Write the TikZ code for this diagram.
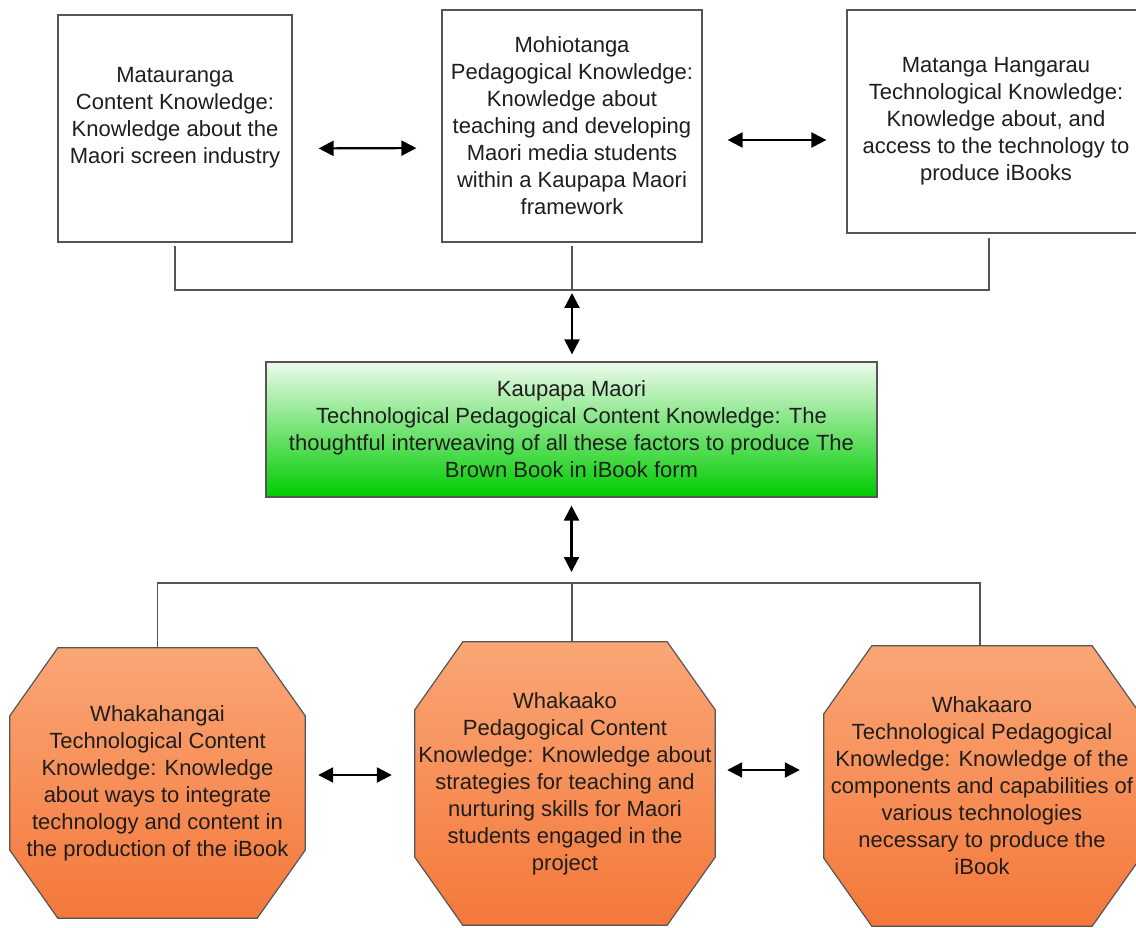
\documentclass[tikz,border=0pt]{standalone}
\usepackage{fontspec}
\setmainfont{Liberation Sans}
\usepackage{xcolor}
\usepackage{tikz}
\usetikzlibrary{arrows.meta,backgrounds}

\definecolor{linegray}{RGB}{85,85,85}
\definecolor{txtgray}{RGB}{30,30,30}
\definecolor{greentop}{RGB}{236,250,236}
\definecolor{greenbot}{RGB}{0,204,0}
\definecolor{orangetop}{RGB}{250,166,118}
\definecolor{orangebot}{RGB}{244,120,58}

\begin{document}
\begin{tikzpicture}[x=1pt,y=-1pt,
  txt/.style={align=center,inner sep=0pt,text=txtgray,font=\fontsize{22}{27}\selectfont},
  kbox/.style={txt,draw=linegray,line width=1.2pt,fill=white},
  tpack/.style={txt,draw=linegray,line width=1.2pt,top color=greentop,bottom color=greenbot},
  octo/.style={draw=linegray,line width=1.2pt,top color=orangetop,bottom color=orangebot},
  bus/.style={draw=linegray,line width=1.6pt},
  dbl/.style={{Triangle[length=15pt,width=15pt]}-{Triangle[length=15pt,width=15pt]},line width=2.2pt,black}]
\useasboundingbox (0,0) rectangle (1136,928);

% top row
\node[kbox,minimum width=234pt,minimum height=227pt,
  label={[txt,yshift=11pt]center:Matauranga\\Content Knowledge:\\Knowledge about the\\Maori screen industry}] (mat) at (175,128.5) {};
\node[kbox,minimum width=260pt,minimum height=232pt] (moh) at (572,126)
  {Mohiotanga\\Pedagogical Knowledge:\\Knowledge about\\teaching and developing\\Maori media students\\within a Kaupapa Maori\\framework};
\node[kbox,minimum width=298pt,minimum height=223pt] (mth) at (996,121.5)
  {Matanga Hangarau\\Technological Knowledge:\\Knowledge about, and\\access to the technology to\\produce iBooks};

% centre
\node[tpack,minimum width=611pt,minimum height=135pt] (kau) at (571.5,429.5)
  {Kaupapa Maori\\Technological Pedagogical Content Knowledge: The\\thoughtful interweaving of all these factors to produce The\\Brown Book in iBook form};

% bottom row
\node[txt,minimum width=295pt,minimum height=270pt] (wkh) at (157.5,783)
  {Whakahangai\\Technological Content\\Knowledge: Knowledge\\about ways to integrate\\technology and content in\\the production of the iBook};
\node[txt,minimum width=300pt,minimum height=283pt] (wkk) at (565,783.5)
  {Whakaako\\Pedagogical Content\\Knowledge: Knowledge about\\strategies for teaching and\\nurturing skills for Maori\\students engaged in the\\project};
\node[txt,minimum width=316pt,minimum height=280pt] (wka) at (982,786)
  {Whakaaro\\Technological Pedagogical\\Knowledge: Knowledge of the\\components and capabilities of\\various technologies\\necessary to produce the\\iBook};

\begin{pgfonlayer}{background}
\foreach \n in {wkh,wkk,wka}
  \draw[octo] ([xshift=48pt]\n.north west) -- ([xshift=-48pt]\n.north east)
    -- ([yshift=-68pt]\n.north east) -- ([yshift=68pt]\n.south east)
    -- ([xshift=-48pt]\n.south east) -- ([xshift=48pt]\n.south west)
    -- ([yshift=68pt]\n.south west) -- ([yshift=-68pt]\n.north west) -- cycle;
\end{pgfonlayer}

% buses
\coordinate (tb) at (572,290);
\coordinate (bb) at (572,583);
\draw[bus] ([yshift=-3pt]mat.south) |- (tb) -| ([xshift=-7pt,yshift=-4pt]mth.south);
\draw[bus] ([yshift=-3pt]moh.south) -- (tb);
\draw[bus] (wkh.north) |- (bb) -| ([xshift=-2pt]wka.north);
\draw[bus] (bb) -- (bb |- wkk.north);

% arrows
\draw[dbl,shorten <=26pt,shorten >=25pt] ([yshift=-20pt]mat.east) -- ([yshift=-22pt]moh.west);
\draw[dbl,shorten <=25pt,shorten >=20pt] ([yshift=-14pt]moh.east) -- ([yshift=-18.5pt]mth.west);
\draw[dbl,shorten <=3pt,shorten >=7pt] (tb) -- (tb |- kau.north);
\draw[dbl,shorten <=8pt,shorten >=11pt] (kau.south) -- (kau.south |- bb);
\draw[dbl,shorten <=13pt,shorten >=23pt] ([yshift=8pt]wkh.east) -- ([yshift=8.5pt]wkk.west);
\draw[dbl,shorten <=12pt,shorten >=24pt] ([yshift=13.5pt]wkk.east) -- ([yshift=16pt]wka.west);
\end{tikzpicture}
\end{document}
